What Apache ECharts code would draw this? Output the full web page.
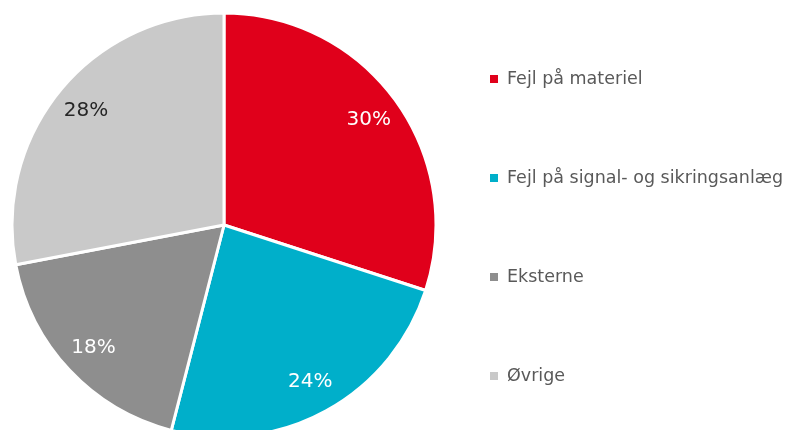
<!DOCTYPE html>
<html>
<head>
<meta charset="utf-8">
<script src="https://cdn.jsdelivr.net/npm/echarts@6/dist/echarts.min.js"></script>
<style>
  html, body { margin: 0; padding: 0; background: #fff; }
  #chart { width: 806px; height: 430px; }
</style>
</head>
<body>
<div id="chart"></div>
<script>
const categories = ['Fejl på materiel', 'Fejl på signal- og sikringsanlæg', 'Eksterne', 'Øvrige']
const shares = [30, 24, 18, 28]
const colors = ['#E0001B', '#00AFCA', '#8E8E8E', '#C9C9C9']
const labelColors = ['#ffffff', '#ffffff', '#ffffff', '#262626']

const chart = echarts.init(document.getElementById('chart'))

const pieData = categories.map((name, i) => ({
  name: name,
  value: shares[i],
  itemStyle: { color: colors[i] }
}))

// transparent ring only used to place the labels near the rim
const labelData = categories.map((name, i) => ({
  name: name,
  value: shares[i],
  itemStyle: { color: 'transparent', borderWidth: 0 },
  label: { color: labelColors[i] }
}))

const option = {
  animation: false,
  legend: {
    orient: 'vertical',
    left: 483,
    top: 64,
    itemGap: 79,
    icon: 'rect',
    itemWidth: 10,
    itemHeight: 10,
    data: categories,
    textStyle: {
      fontFamily: 'DejaVu Sans',
      fontSize: 17.5,
      color: '#595959',
      lineHeight: 20,
      padding: [0, 0, 0, 3]
    }
  },
  series: [
    {
      type: 'pie',
      center: [224, 225],
      radius: [0, 212],
      startAngle: 90,
      clockwise: true,
      silent: true,
      itemStyle: { borderColor: '#ffffff', borderWidth: 3 },
      label: { show: false },
      labelLine: { show: false },
      data: pieData
    },
    {
      type: 'pie',
      center: [224, 225],
      radius: [140, 212],
      startAngle: 90,
      clockwise: true,
      silent: true,
      legendHoverLink: false,
      label: {
        show: true,
        position: 'inside',
        formatter: '{c}%',
        fontFamily: 'DejaVu Sans',
        fontSize: 20
      },
      labelLine: { show: false },
      data: labelData
    }
  ]
}

chart.setOption(option)
</script>
</body>
</html>
